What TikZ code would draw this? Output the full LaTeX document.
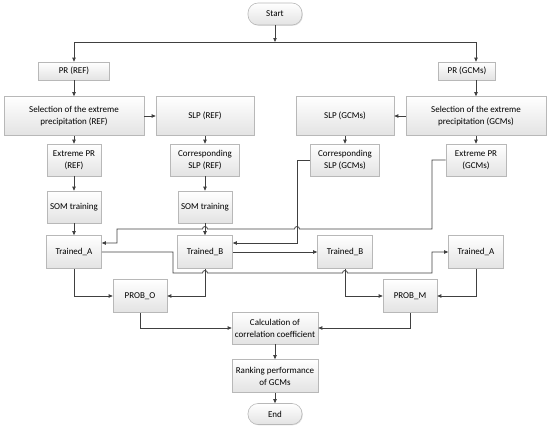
\documentclass[tikz,border=0pt]{standalone}
\usepackage{fontspec}
\setmainfont{Carlito}
\usetikzlibrary{arrows.meta,calc,positioning,shadows}
\colorlet{linecolor}{black!75}
\colorlet{boxborder}{black!28}
\tikzset{
  stepbox/.style={
    draw=boxborder,
    line width=0.6pt,
    top color=white,
    bottom color=black!11,
    align=center,
    inner sep=1pt,
    font=\fontsize{9}{12}\selectfont,
    drop shadow={shadow xshift=0.8pt, shadow yshift=-0.8pt,
      opacity=0.25, fill=black!45}
  },
  terminal/.style={stepbox, rounded corners=10pt},
  boxsize/.style 2 args={minimum width=#1pt, minimum height=#2pt},
  flow/.style={
    linecolor,
    line width=0.8pt,
    -{Triangle[length=4pt,width=3.4pt]}
  }
}

\begin{document}
\begin{tikzpicture}[x=1pt, y=-1pt]

  \useasboundingbox (0,0) rectangle (550,429);

  % Start and the two input branches.
  \node[terminal, boxsize={54}{22}] (start) at (275,14) {Start};
  \coordinate (split) at (275,42);
  \node[stepbox, boxsize={71}{18}] (prR) at (74,71) {PR (REF)};
  \node[stepbox, boxsize={57}{18}] (prG) at (467,71) {PR (GCMs)};

  \node[stepbox, boxsize={140}{39}] (selR) at (74,116)
    {Selection of the extreme\\precipitation (REF)};
  \node[stepbox, boxsize={98}{39}] (slpR) at (205,116) {SLP (REF)};
  \node[stepbox, boxsize={98}{39}] (slpG) at (345,116) {SLP (GCMs)};
  \node[stepbox, boxsize={140}{39}] (selG) at (476,116)
    {Selection of the extreme\\precipitation (GCMs)};

  \node[stepbox, boxsize={54}{32}] (expR) at (74,160) {Extreme PR\\(REF)};
  \node[stepbox, boxsize={69}{32}] (corR) at (205,160) {Corresponding\\SLP (REF)};
  \node[stepbox, boxsize={69}{32}] (corG) at (345,160) {Corresponding\\SLP (GCMs)};
  \node[stepbox, boxsize={60}{32}] (expG) at (476,160) {Extreme PR\\(GCMs)};

  \node[stepbox, boxsize={54}{32}] (somA) at (74,207) {SOM training};
  \node[stepbox, boxsize={54}{32}] (somB) at (205,207) {SOM training};

  % Trained maps and probabilities.
  \node[stepbox, boxsize={55}{33}] (trA) at (74,252) {Trained\_A};
  \node[stepbox, boxsize={55}{33}] (trB) at (205,252) {Trained\_B};
  \node[stepbox, boxsize={55}{33}] (trB2) at (345,252) {Trained\_B};
  \node[stepbox, boxsize={55}{33}] (trA2) at (476,252) {Trained\_A};

  \node[stepbox, boxsize={54}{33}] (probO) at (140,296) {PROB\_O};
  \node[stepbox, boxsize={54}{33}] (probM) at (410,296) {PROB\_M};

  \node[stepbox, boxsize={86}{32}] (calc) at (275,328)
    {Calculation of\\correlation coefficient};
  \node[stepbox, boxsize={86}{33}] (rank) at (275,376)
    {Ranking performance\\of GCMs};
  \node[terminal, boxsize={54}{21}] (stop) at (275,414) {End};

  % Connectors of the upper part.
  \draw[flow] (start) -- (split);
  \draw[flow] (split) -| (prR);
  \draw[flow] (split) -| (selG |- prG.north);
  \draw[flow] (prR) -- (selR);
  \draw[flow] (selG |- prG.south) -- (selG);
  \draw[flow] (selR) -- (slpR);
  \draw[flow] (selG) -- (slpG);
  \draw[flow] (selR) -- (expR);
  \draw[flow] (slpR) -- (corR);
  \draw[flow] (slpG) -- (corG);
  \draw[flow] (selG) -- (expG);
  \draw[flow] (expR) -- (somA);
  \draw[flow] (corR) -- (somB);
  \draw[flow] (somA) -- (trA);
  \draw[flow] (somB) -- (trB);

  % GCM series fed back into the trained maps (with line hops).
  \draw[flow] (expG.west) -| (432,229)
    -- (299.5,229) arc[start angle=0, end angle=180, radius=2.5pt]
    -- (207.5,229) arc[start angle=0, end angle=180, radius=2.5pt]
    -| (117,243) -- ($(trA.east)+(0,-9)$);
  \draw[flow] (corG.west) -| (297,243) -- ($(trB.east)+(0,-9)$);
  \draw[flow] (trA.east) -| (173,273)
    -- (202.5,273) arc[start angle=180, end angle=0, radius=2.5pt]
    -- (342.5,273) arc[start angle=180, end angle=0, radius=2.5pt]
    -| (432,252) -- (trA2.west);
  \draw[flow] (trB) -- (trB2);

  % Probabilities and ranking.
  \draw[flow] (trA.south) |- (probO.west);
  \draw[flow] (trB.south) |- (probO.east);
  \draw[flow] (trB2.south) |- (probM.west);
  \draw[flow] (trA2.south) |- (probM.east);
  \draw[flow] (probO.south) |- (calc.west);
  \draw[flow] (probM.south) |- (calc.east);
  \draw[flow] (calc) -- (rank);
  \draw[flow] (rank) -- (stop);

\end{tikzpicture}
\end{document}
